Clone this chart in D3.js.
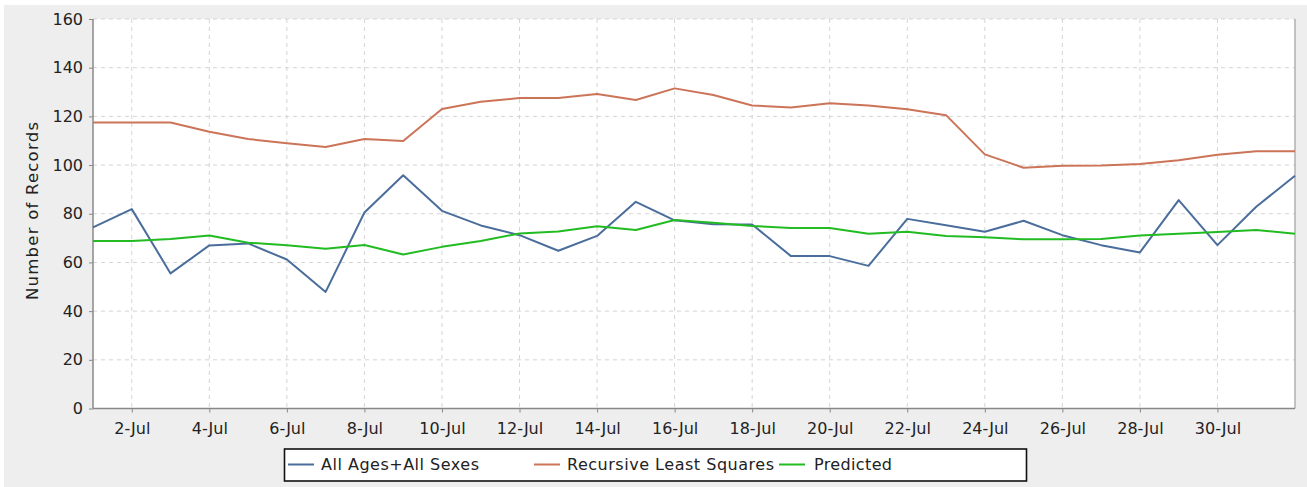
<!DOCTYPE html>
<html>
<head>
<meta charset="utf-8">
<script src="https://cdn.jsdelivr.net/npm/d3@7"></script>
<style>
    body { margin: 0; background: #ffffff; }
    svg { display: block; font-family: "DejaVu Sans", sans-serif; }
</style>
</head>
<body>
<svg id="chart" width="1307" height="487"></svg>
<script>
// one value per day, 1-Jul .. 1-Aug
const days = d3.range(32).map(i => new Date(2020, 6, 1 + i));
const actual = [74.4, 81.9, 55.5, 67, 67.8, 61.2, 47.9, 80.5, 95.8, 81.2, 75.2,
    71.2, 64.8, 70.9, 84.9, 77.3, 75.7, 75.6, 62.6, 62.6, 58.6, 77.9, 75.3,
    72.6, 77.1, 71.2, 67.1, 64.1, 85.6, 67.1, 82.9, 95.6];
const rls = [117.5, 117.5, 117.5, 113.7, 110.7, 109, 107.4, 110.7, 109.9, 123,
    126, 127.5, 127.5, 129.2, 126.7, 131.5, 128.8, 124.5, 123.6, 125.4, 124.5,
    122.9, 120.5, 104.4, 98.9, 99.7, 99.8, 100.4, 102, 104.2, 105.7, 105.7];
const predicted = [68.8, 68.8, 69.6, 71.1, 68.1, 67.1, 65.6, 67.2, 63.3, 66.4,
    68.8, 71.9, 72.7, 74.9, 73.3, 77.4, 76.3, 75, 74.1, 74.1, 71.8, 72.6, 70.9,
    70.3, 69.5, 69.5, 69.6, 71.1, 71.8, 72.5, 73.3, 71.8];
const yTicks = [0, 20, 40, 60, 80, 100, 120, 140, 160];
const seriesNames = ["All Ages+All Sexes", "Recursive Least Squares", "Predicted"];
const seriesColors = ["#4a6d9b", "#cc7458", "#22bb22"];

const svg = d3.select("#chart");
const plotL = 93, plotR = 1295, plotT = 19, plotB = 408.5;

// grey panel with thin white rim
svg.append("rect")
    .attr("x", 4).attr("y", 5)
    .attr("width", 1303).attr("height", 482)
    .attr("fill", "#eeeeee");

svg.append("rect")
    .attr("x", plotL).attr("y", plotT)
    .attr("width", plotR - plotL).attr("height", plotB - plotT)
    .attr("fill", "#ffffff");

const x = d3.scaleTime()
    .domain([days[0], days[days.length - 1]])
    .range([plotL, plotR]);
const y = d3.scaleLinear()
    .domain([0, 160])
    .range([plotB, plotT]);

const xTicks = days.filter((d, i) => i % 2 === 1 && d.getMonth() === 6);

// grid
svg.append("g")
    .selectAll("line")
    .data(yTicks.slice(1))
    .join("line")
    .attr("x1", plotL).attr("x2", plotR)
    .attr("y1", d => y(d)).attr("y2", d => y(d))
    .attr("stroke", "#d4d4d4")
    .attr("stroke-dasharray", "4,4");

svg.append("g")
    .selectAll("line")
    .data(xTicks)
    .join("line")
    .attr("x1", d => x(d)).attr("x2", d => x(d))
    .attr("y1", plotT).attr("y2", plotB)
    .attr("stroke", "#d4d4d4")
    .attr("stroke-dasharray", "4,4");

// plot border on the right
svg.append("line")
    .attr("x1", plotR).attr("x2", plotR)
    .attr("y1", plotT).attr("y2", plotB)
    .attr("stroke", "#b0b0b0")
    .attr("stroke-width", 1.5);

// axes
const fmt = d3.timeFormat("%-d-%b");
const xAxis = svg.append("g")
    .attr("transform", `translate(0,${plotB})`)
    .call(d3.axisBottom(x).tickValues(xTicks).tickFormat(fmt).tickSize(4).tickPadding(10));

const yAxis = svg.append("g")
    .attr("transform", `translate(${plotL},0)`)
    .call(d3.axisLeft(y).tickValues(yTicks).tickSize(4).tickPadding(6));

for (let ax of [xAxis, yAxis]) {
    ax.select(".domain")
        .attr("stroke", "#888888")
        .attr("stroke-width", 1.5);
    ax.selectAll(".tick line").attr("stroke", "#888888");
    ax.selectAll(".tick text")
        .attr("fill", "#222222")
        .style("font-family", "DejaVu Sans")
        .style("font-size", "16px");
}
xAxis.select(".domain").attr("d", `M${plotL},0H${plotR}`);
yAxis.select(".domain").attr("d", `M0,${plotT}V${plotB}`);

svg.append("text")
    .attr("transform", `translate(38,211) rotate(-90)`)
    .attr("text-anchor", "middle")
    .attr("fill", "#222222")
    .attr("textLength", 178)
    .attr("lengthAdjust", "spacing")
    .style("font-size", "16.5px")
    .text("Number of Records");

// lines
const line = d3.line()
    .x((d, i) => x(days[i]))
    .y(d => y(d));

const allSeries = [actual, rls, predicted];
svg.append("g")
    .selectAll("path")
    .data(allSeries)
    .join("path")
    .attr("d", d => line(d))
    .attr("fill", "none")
    .attr("stroke", (d, i) => seriesColors[i])
    .attr("stroke-width", 2)
    .attr("stroke-linejoin", "round");

// legend
const legend = svg.append("g");
legend.append("rect")
    .attr("x", 284.5).attr("y", 449)
    .attr("width", 742).attr("height", 32)
    .attr("fill", "#ffffff")
    .attr("stroke", "#111111")
    .attr("stroke-width", 1.6);

const legendX = [288, 534, 779];
const legendTextW = [158, 207, 78];
const items = legend.selectAll("g.item")
    .data(seriesNames)
    .join("g")
    .attr("class", "item")
    .attr("transform", (d, i) => `translate(${legendX[i]},464.5)`);
items.append("line")
    .attr("x1", 0).attr("x2", 26)
    .attr("stroke", (d, i) => seriesColors[i])
    .attr("stroke-width", 2);
items.append("text")
    .attr("x", (d, i) => i === 2 ? 35 : 33)
    .attr("dy", "0.35em")
    .attr("fill", "#222222")
    .attr("textLength", (d, i) => legendTextW[i])
    .attr("lengthAdjust", "spacing")
    .style("font-size", "16px")
    .text(d => d);
</script>
</body>
</html>
